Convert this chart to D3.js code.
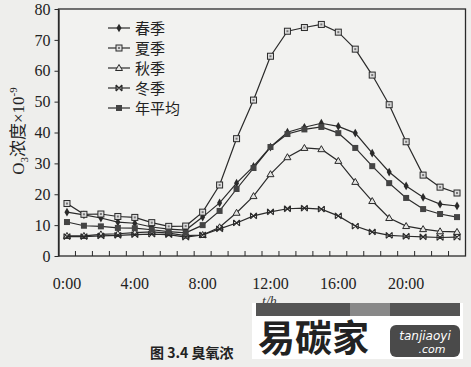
<!DOCTYPE html>
<html lang="zh">
<head>
<meta charset="UTF-8">
<style>
  body { margin: 0; background: #eeeeec; }
  svg { display: block; }
  .tick text { font-family: "Liberation Serif", serif; font-size: 16px; fill: #222; }
  .lbl { font-family: "Noto Sans CJK SC", sans-serif; fill: #222; }
</style>
<script src="https://d3js.org/d3.v7.min.js"></script>
</head>
<body>
<svg id="chart"></svg>
<script>
const hours = d3.range(0, 24);
const hourLabels = ['0:00', '4:00', '8:00', '12:00', '16:00', '20:00'];
const yTicks = [0, 10, 20, 30, 40, 50, 60, 70, 80];
const seriesNames = ['春季', '夏季', '秋季', '冬季', '年平均'];
const spring = [14.2, 13.3, 12.3, 11.0, 10.6, 9.4, 8.7, 8.4, 12.6, 17.2, 23.6, 29.0,
                35.3, 40.1, 41.7, 43.0, 42.0, 39.8, 33.3, 27.2, 22.7, 19.0, 16.8, 16.2];
const summer = [17.0, 13.5, 13.6, 12.8, 12.5, 10.8, 9.6, 9.7, 14.2, 23.0, 38.0, 50.5,
                64.7, 72.8, 74.0, 75.0, 72.5, 67.0, 58.6, 49.0, 37.0, 26.2, 22.3, 20.4];
const autumn = [6.5, 6.5, 7.0, 7.2, 7.6, 7.8, 7.4, 6.6, 6.8, 9.3, 14.0, 19.4,
                26.5, 32.0, 35.0, 34.6, 30.8, 24.0, 17.8, 12.3, 9.7, 8.7, 8.0, 7.8];
const winter = [6.3, 6.3, 6.5, 6.7, 6.9, 7.1, 6.9, 6.1, 6.8, 8.8, 10.7, 13.0,
                14.3, 15.3, 15.5, 15.2, 13.0, 9.7, 7.8, 6.7, 6.4, 6.2, 6.0, 6.1];
const annual = [11.0, 9.8, 9.6, 9.1, 9.0, 8.5, 7.9, 7.5, 10.0, 14.6, 21.7, 28.5,
                35.3, 39.5, 41.0, 41.8, 39.8, 35.0, 29.1, 23.6, 18.8, 15.2, 13.6, 12.6];
const seriesValues = [spring, summer, autumn, winter, annual];
const markers = ['diamond', 'opensquare', 'triangle', 'bowtie', 'square'];

const W = 471, H = 367;
const svg = d3.select('#chart').attr('width', W).attr('height', H);
const ink = '#2a2a2a';

const x = d3.scaleBand().domain(hours).range([58.5, 465.5]).padding(0);
const y = d3.scaleLinear().domain([0, 80]).range([256, 9]);
const cx = function(h) { return x(h) + x.bandwidth() / 2; };

// plot frame
svg.append('rect')
  .attr('x', x.range()[0]).attr('y', y(80))
  .attr('width', x.range()[1] - x.range()[0]).attr('height', y(0) - y(80))
  .attr('fill', '#f2f2f0').attr('stroke', ink).attr('stroke-width', 1.3);

// y axis
const yAxis = svg.append('g')
  .attr('transform', 'translate(' + x.range()[0] + ',0)')
  .call(d3.axisLeft(y).tickValues(yTicks).tickSize(4).tickSizeOuter(0).tickPadding(4));
yAxis.select('.domain').attr('stroke', ink).attr('stroke-width', 1.3);
yAxis.selectAll('.tick line').attr('stroke', ink);

// x axis: ticks at category boundaries, labels at category centres
const xg = svg.append('g');
xg.selectAll('line.xt')
  .data(hours.slice(1))
  .enter()
  .append('line')
  .attr('x1', function(h) { return x(h); })
  .attr('x2', function(h) { return x(h); })
  .attr('y1', y(0)).attr('y2', y(0) - 5)
  .attr('stroke', ink).attr('stroke-width', 1);
xg.selectAll('text')
  .data(hourLabels)
  .enter()
  .append('text')
  .attr('x', function(d) { return cx(+d.split(':')[0]); })
  .attr('y', 289)
  .attr('text-anchor', 'middle')
  .style('font-family', '"Liberation Serif", serif')
  .style('font-size', '16px')
  .attr('fill', '#222')
  .text(function(d) { return d; });

// y title
const yt = svg.append('text')
  .attr('transform', 'translate(24,131) rotate(-90)')
  .attr('text-anchor', 'middle')
  .style('font-size', '17px')
  .attr('fill', '#222');
yt.append('tspan').style('font-family', '"Liberation Serif", serif').text('O');
yt.append('tspan').style('font-family', '"Liberation Serif", serif').style('font-size', '11px').attr('dy', 4).text('3');
yt.append('tspan').style('font-family', '"Noto Sans CJK SC", sans-serif').attr('dy', -4).text('浓度');
yt.append('tspan').style('font-family', '"Liberation Serif", serif').text('×10');
yt.append('tspan').style('font-family', '"Liberation Serif", serif').style('font-size', '11px').attr('dy', -7).text('-9');

// marker drawing
function drawMarker(g, type, px, py) {
  if (type === 'diamond') {
    g.append('path').attr('d', d3.symbol(d3.symbolDiamond, 22)()).attr('transform', 'translate(' + px + ',' + py + ')')
      .attr('fill', ink);
  } else if (type === 'opensquare') {
    g.append('rect').attr('x', px - 3).attr('y', py - 3).attr('width', 6).attr('height', 6)
      .attr('fill', '#ddd').attr('stroke', ink).attr('stroke-width', 1);
    g.append('rect').attr('x', px - 1).attr('y', py - 1).attr('width', 2).attr('height', 2).attr('fill', '#777');
  } else if (type === 'triangle') {
    g.append('path').attr('d', 'M' + px + ',' + (py - 3.5) + 'L' + (px + 3.5) + ',' + (py + 2.5) + 'L' + (px - 3.5) + ',' + (py + 2.5) + 'Z')
      .attr('fill', '#e4e4e2').attr('stroke', ink).attr('stroke-width', 1);
  } else if (type === 'bowtie') {
    g.append('path').attr('d', 'M' + (px - 3) + ',' + (py - 3) + 'L' + (px + 3) + ',' + (py + 3) +
        'M' + (px - 3) + ',' + (py + 3) + 'L' + (px + 3) + ',' + (py - 3) +
        'M' + (px - 3) + ',' + (py - 3) + 'L' + (px - 3) + ',' + (py + 3) +
        'M' + (px + 3) + ',' + (py - 3) + 'L' + (px + 3) + ',' + (py + 3))
      .attr('fill', 'none').attr('stroke', ink).attr('stroke-width', 1.1);
  } else {
    g.append('rect').attr('x', px - 3).attr('y', py - 3).attr('width', 6).attr('height', 6).attr('fill', '#444');
  }
}

const line = d3.line()
  .x(function(d, i) { return cx(hours[i]); })
  .y(function(d) { return y(d); });

seriesValues.forEach(function(vals, s) {
  const g = svg.append('g');
  g.append('path').datum(vals).attr('d', line)
    .attr('fill', 'none').attr('stroke', ink).attr('stroke-width', 1.2);
  vals.forEach(function(v, i) { drawMarker(g, markers[s], cx(hours[i]), y(v)); });
});

// legend
seriesNames.forEach(function(name, s) {
  const ly = 28 + s * 20;
  const g = svg.append('g');
  g.append('line').attr('x1', 108).attr('x2', 130).attr('y1', ly).attr('y2', ly)
    .attr('stroke', ink).attr('stroke-width', 1.2);
  drawMarker(g, markers[s], 119, ly);
  g.append('text').attr('class', 'lbl').attr('x', 135).attr('y', ly + 5.5)
    .style('font-size', '15px').text(name);
});

// x title (mostly hidden behind the watermark)
svg.append('text').attr('x', 262).attr('y', 306).style('font-family', '"Liberation Serif", serif')
  .style('font-size', '14px').style('font-style', 'italic').attr('fill', '#333').text('t/h');

// watermark block
const wm = svg.append('g');
wm.append('rect').attr('x', 252).attr('y', 303).attr('width', 211).attr('height', 56).attr('fill', '#ffffff');
wm.append('rect').attr('x', 256).attr('y', 303).attr('width', 94).attr('height', 13).attr('fill', '#555');
wm.append('rect').attr('x', 350).attr('y', 303).attr('width', 40).attr('height', 13).attr('fill', '#888');
wm.append('rect').attr('x', 390).attr('y', 303).attr('width', 70).attr('height', 13).attr('fill', '#555');
wm.append('text').attr('class', 'lbl').attr('x', 258).attr('y', 352)
  .style('font-size', '37px').style('font-weight', 'bold').attr('fill', '#4a4a4a').text('易碳家');
wm.append('rect').attr('x', 390).attr('y', 325).attr('width', 70).attr('height', 32).attr('rx', 6)
  .attr('fill', '#4a4a4a');
wm.append('text').attr('x', 425).attr('y', 340).attr('text-anchor', 'middle')
  .style('font-family', '"DejaVu Sans", sans-serif').style('font-size', '12px').style('font-style', 'italic')
  .attr('fill', '#fff').text('tanjiaoyi');
wm.append('text').attr('x', 432).attr('y', 353).attr('text-anchor', 'middle')
  .style('font-family', '"DejaVu Sans", sans-serif').style('font-size', '11px').style('font-style', 'italic')
  .attr('fill', '#fff').text('.com');

// caption
svg.append('text').attr('class', 'lbl').attr('x', 150).attr('y', 358)
  .style('font-size', '14px').style('font-weight', 'bold').attr('fill', '#111').text('图 3.4  臭氧浓');
</script>
</body>
</html>
